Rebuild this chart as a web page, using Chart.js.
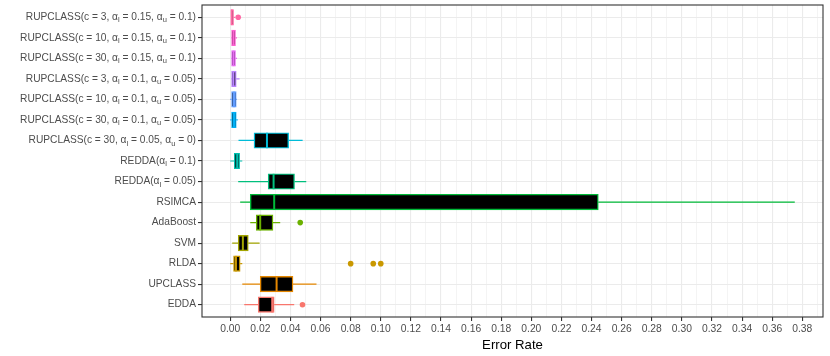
<!DOCTYPE html>
<html>
<head>
<meta charset="utf-8">
<script src="https://cdn.jsdelivr.net/npm/chart.js@4.4.0/dist/chart.umd.min.js"></script>
<style>
  html, body { margin: 0; padding: 0; background: #fff; }
</style>
</head>
<body>
<canvas id="chart" width="830" height="356"></canvas>
<script>
// rows from bottom to top (factor order), "_x" marks a subscript letter
const categories = [
  "EDDA",
  "UPCLASS",
  "RLDA",
  "SVM",
  "AdaBoost",
  "RSIMCA",
  "REDDA(α_l = 0.05)",
  "REDDA(α_l = 0.1)",
  "RUPCLASS(c = 30, α_l = 0.05, α_u = 0)",
  "RUPCLASS(c = 30, α_l = 0.1, α_u = 0.05)",
  "RUPCLASS(c = 10, α_l = 0.1, α_u = 0.05)",
  "RUPCLASS(c = 3, α_l = 0.1, α_u = 0.05)",
  "RUPCLASS(c = 30, α_l = 0.15, α_u = 0.1)",
  "RUPCLASS(c = 10, α_l = 0.15, α_u = 0.1)",
  "RUPCLASS(c = 3, α_l = 0.15, α_u = 0.1)"
];
const whiskerLow  = [0.0093, 0.0080, 0.0000, 0.0013, 0.0133, 0.0066, 0.0053, 0.0000, 0.0055, 0.0000, 0.0000, 0.0005, 0.0005, 0.0005, 0.0005];
const q1          = [0.0186, 0.0199, 0.0022, 0.0053, 0.0173, 0.0133, 0.0252, 0.0027, 0.0158, 0.0009, 0.0009, 0.0009, 0.0009, 0.0009, 0.0005];
const median      = [0.0279, 0.0308, 0.0038, 0.0084, 0.0199, 0.0292, 0.0288, 0.0046, 0.0244, 0.0025, 0.0025, 0.0022, 0.0022, 0.0022, 0.0010];
const q3          = [0.0292, 0.0417, 0.0066, 0.0120, 0.0284, 0.2445, 0.0427, 0.0062, 0.0388, 0.0040, 0.0040, 0.0040, 0.0035, 0.0035, 0.0022];
const whiskerHigh = [0.0425, 0.0573, 0.0080, 0.0195, 0.0332, 0.3750, 0.0505, 0.0080, 0.0481, 0.0050, 0.0045, 0.0062, 0.0045, 0.0045, 0.0031];
// outliers: row number (1 = EDDA) and value
const outlierRow   = [1, 5, 3, 3, 3, 15];
const outlierValue = [0.048, 0.0465, 0.080, 0.095, 0.100, 0.0053];
const colors = ["#F8766D", "#E58700", "#C99800", "#A3A500", "#6BB100", "#00BA38", "#00BF7D", "#00C0AF",
                "#00BCD8", "#00B0F6", "#619CFF", "#B983FF", "#E76BF3", "#FD61D1", "#FF67A4"];
const xMajor = [0.00, 0.02, 0.04, 0.06, 0.08, 0.10, 0.12, 0.14, 0.16, 0.18, 0.20,
                0.22, 0.24, 0.26, 0.28, 0.30, 0.32, 0.34, 0.36, 0.38];

const FONT = "'Liberation Sans', Arial, sans-serif";

// whiskers under the boxes, medians on top
const boxExtras = {
  id: "boxExtras",
  beforeDatasetsDraw(chart) {
    const { ctx, scales: { x, y } } = chart;
    ctx.save();
    ctx.lineWidth = 1.2;
    categories.forEach((c, i) => {
      const yy = y.getPixelForValue(i + 1);
      ctx.strokeStyle = colors[i];
      ctx.beginPath();
      ctx.moveTo(x.getPixelForValue(whiskerLow[i]), yy);
      ctx.lineTo(x.getPixelForValue(q1[i]), yy);
      ctx.moveTo(x.getPixelForValue(q3[i]), yy);
      ctx.lineTo(x.getPixelForValue(whiskerHigh[i]), yy);
      ctx.stroke();
    });
    ctx.restore();
  },
  afterDatasetsDraw(chart) {
    const { ctx, scales: { x } } = chart;
    const meta = chart.getDatasetMeta(0);
    ctx.save();
    ctx.lineWidth = 2;
    meta.data.forEach((bar, i) => {
      const { y, height } = bar.getProps(["y", "height"], true);
      const mx = x.getPixelForValue(median[i]);
      ctx.strokeStyle = colors[i];
      ctx.beginPath();
      ctx.moveTo(mx, y - height / 2);
      ctx.lineTo(mx, y + height / 2);
      ctx.stroke();
    });
    ctx.restore();
  },
  afterDraw(chart) {
    const { ctx, chartArea: a, scales: { y } } = chart;
    ctx.save();
    // panel border
    ctx.strokeStyle = "#333333";
    ctx.lineWidth = 1.1;
    ctx.strokeRect(a.left, a.top, a.right - a.left, a.bottom - a.top);
    // y labels with subscripts
    ctx.fillStyle = "#4D4D4D";
    ctx.textBaseline = "middle";
    const big = "10.2px " + FONT, small = "7.5px " + FONT;
    categories.forEach((label, i) => {
      const parts = label.split(/_([a-z])/);
      let w = 0;
      parts.forEach((p, k) => {
        ctx.font = k % 2 ? small : big;
        w += ctx.measureText(p).width;
      });
      let xx = a.left - 6 - w;
      const yy = y.getPixelForValue(i + 1);
      parts.forEach((p, k) => {
        ctx.font = k % 2 ? small : big;
        ctx.fillText(p, xx, k % 2 ? yy + 3 : yy);
        xx += ctx.measureText(p).width;
      });
    });
    ctx.restore();
  }
};

new Chart(document.getElementById("chart"), {
  type: "bar",
  data: {
    datasets: [
      {
        type: "bar",
        indexAxis: "y",
        data: categories.map((c, i) => ({ x: [q1[i], q3[i]], y: i + 1 })),
        backgroundColor: "#000000",
        borderColor: colors,
        borderWidth: 1.4,
        borderSkipped: false,
        barThickness: 15.5
      },
      {
        type: "scatter",
        data: outlierValue.map((v, k) => ({ x: v, y: outlierRow[k] })),
        backgroundColor: outlierRow.map(r => colors[r - 1]),
        borderWidth: 0,
        pointRadius: 2.8
      }
    ]
  },
  options: {
    responsive: false,
    animation: false,
    devicePixelRatio: 1,
    indexAxis: "y",
    layout: { padding: { top: 5, right: 7, bottom: 0, left: 0 } },
    plugins: { legend: { display: false }, tooltip: { enabled: false } },
    scales: {
      x: {
        type: "linear",
        offset: false,
        min: -0.01875,
        max: 0.39375,
        afterBuildTicks(scale) {
          const t = [];
          xMajor.forEach(m => { t.push({ value: m }); t.push({ value: m + 0.01 }); });
          scale.ticks = t;
        },
        afterFit(scale) { scale.height = 39; },
        border: { display: false },
        grid: {
          offset: false,
          color: "#EBEBEB",
          lineWidth: c => (c.index % 2 === 0 ? 1.1 : 0.55),
          tickColor: c => (c.index % 2 === 0 ? "#333333" : "rgba(0,0,0,0)"),
          tickLength: 4,
          tickWidth: 1.1
        },
        ticks: {
          autoSkip: false,
          maxRotation: 0,
          padding: 2,
          color: "#4D4D4D",
          font: { family: FONT, size: 10.3 },
          callback: (v, i) => (i % 2 === 0 ? xMajor[i / 2].toFixed(2) : "")
        },
        title: {
          display: true,
          text: "Error Rate",
          color: "#000000",
          font: { family: FONT, size: 13.2 },
          padding: { top: 2, bottom: 3 }
        }
      },
      y: {
        type: "linear",
        offset: false,
        min: 0.4,
        max: 15.6,
        afterBuildTicks(scale) {
          scale.ticks = categories.map((c, i) => ({ value: i + 1 }));
        },
        afterFit(scale) { scale.width = 202; },
        border: { display: false },
        grid: {
          offset: false,
          color: "#EBEBEB",
          lineWidth: 1.1,
          tickColor: "#333333",
          tickLength: 4,
          tickWidth: 1.1
        },
        ticks: { display: false }
      }
    }
  },
  plugins: [boxExtras]
});
</script>
</body>
</html>
